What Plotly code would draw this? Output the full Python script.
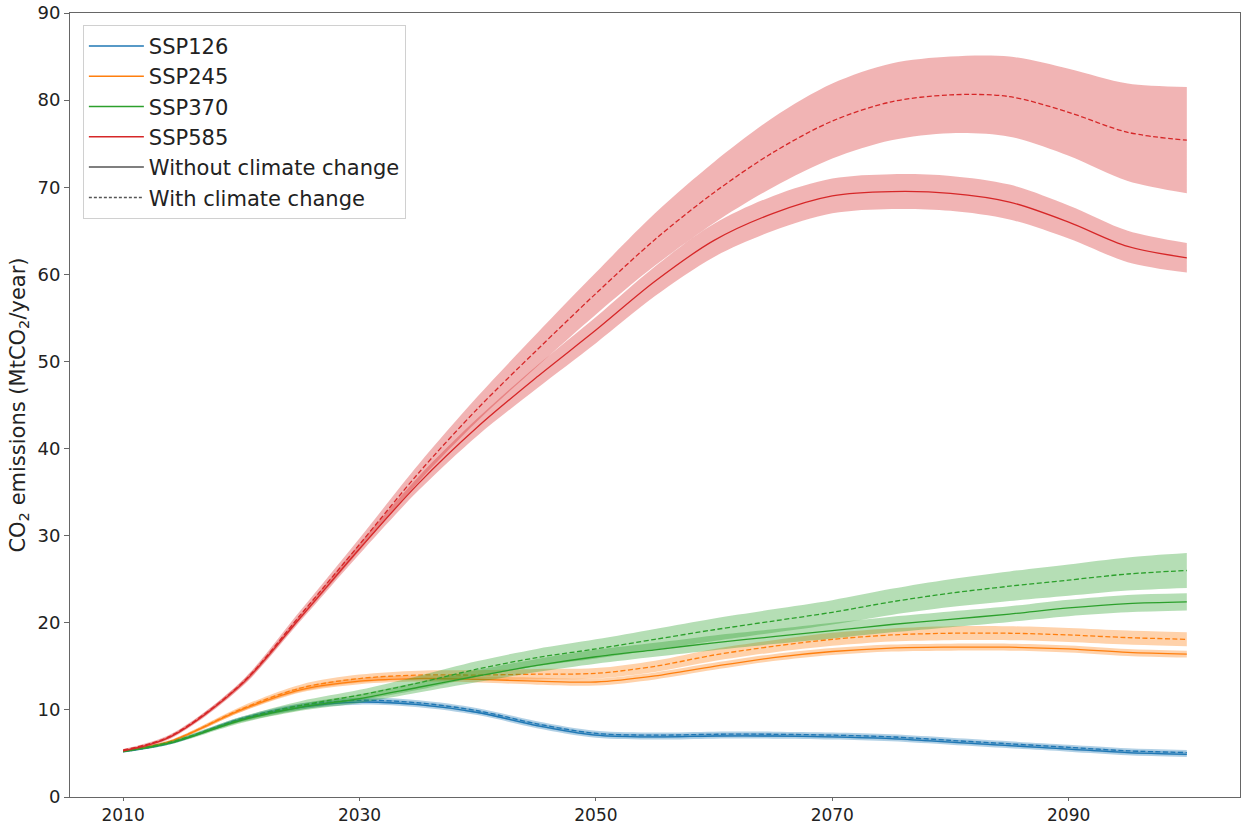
import plotly.graph_objects as go

years = [2010, 2014, 2020, 2025, 2030, 2035, 2040, 2045, 2050, 2055,
         2060, 2065, 2070, 2075, 2080, 2085, 2090, 2095, 2100]

# central estimates, MtCO2/year
ssp126_without = [5.2, 6.2, 8.9, 10.3, 10.9, 10.6, 9.7, 8.2, 7.1, 6.9, 7.0, 7.0, 6.9, 6.7, 6.3, 5.9, 5.5, 5.1, 4.9]
ssp126_with    = [5.2, 6.2, 9.0, 10.5, 11.1, 10.8, 9.9, 8.4, 7.3, 7.1, 7.2, 7.2, 7.1, 6.9, 6.5, 6.1, 5.7, 5.3, 5.1]
ssp245_without = [5.3, 6.4, 10.0, 12.3, 13.3, 13.6, 13.5, 13.3, 13.2, 13.9, 15.0, 16.0, 16.7, 17.1, 17.2, 17.2, 17.0, 16.6, 16.4]
ssp245_with    = [5.3, 6.4, 10.1, 12.5, 13.6, 14.0, 14.0, 14.1, 14.2, 15.0, 16.3, 17.3, 18.1, 18.6, 18.8, 18.8, 18.6, 18.3, 18.1]
ssp370_without = [5.2, 6.2, 8.8, 10.3, 11.3, 12.6, 13.9, 15.1, 16.1, 16.9, 17.7, 18.4, 19.1, 19.8, 20.4, 21.0, 21.7, 22.2, 22.4]
ssp370_with    = [5.3, 6.3, 8.9, 10.5, 11.7, 13.1, 14.7, 16.0, 17.0, 18.1, 19.2, 20.2, 21.2, 22.4, 23.4, 24.2, 24.9, 25.6, 26.0]
ssp585_without = [5.3, 6.9, 12.9, 20.6, 28.5, 36.0, 42.5, 48.2, 53.6, 59.2, 63.9, 67.0, 69.0, 69.5, 69.3, 68.3, 66.0, 63.2, 61.9]
ssp585_with    = [5.4, 7.0, 13.0, 20.9, 29.0, 37.2, 44.6, 51.3, 57.8, 64.0, 69.4, 74.0, 77.6, 79.8, 80.6, 80.4, 78.6, 76.3, 75.4]

# half-widths of the uncertainty bands
ssp126_without_spread = [0.1, 0.15, 0.2, 0.25, 0.3, 0.3, 0.3, 0.3, 0.3, 0.3, 0.3, 0.3, 0.3, 0.3, 0.3, 0.3, 0.3, 0.3, 0.3]
ssp126_with_spread    = [0.1, 0.15, 0.2, 0.25, 0.3, 0.3, 0.3, 0.3, 0.3, 0.3, 0.3, 0.3, 0.3, 0.3, 0.3, 0.3, 0.3, 0.3, 0.3]
ssp245_without_spread = [0.1, 0.15, 0.25, 0.3, 0.35, 0.35, 0.35, 0.4, 0.4, 0.4, 0.4, 0.4, 0.4, 0.4, 0.4, 0.4, 0.4, 0.4, 0.4]
ssp245_with_spread    = [0.1, 0.15, 0.3, 0.4, 0.45, 0.5, 0.55, 0.6, 0.6, 0.65, 0.7, 0.7, 0.75, 0.75, 0.8, 0.8, 0.8, 0.8, 0.8]
ssp370_without_spread = [0.1, 0.15, 0.3, 0.4, 0.5, 0.6, 0.7, 0.75, 0.8, 0.8, 0.85, 0.85, 0.9, 0.9, 0.9, 0.9, 0.95, 1.0, 1.0]
ssp370_with_spread    = [0.1, 0.15, 0.3, 0.5, 0.6, 0.8, 0.9, 1.0, 1.1, 1.2, 1.3, 1.35, 1.4, 1.5, 1.6, 1.7, 1.8, 1.9, 2.0]
ssp585_without_spread = [0.1, 0.2, 0.3, 0.4, 0.6, 0.8, 1.0, 1.3, 1.5, 1.7, 1.9, 2.0, 2.0, 2.0, 2.0, 2.0, 1.9, 1.8, 1.7]
ssp585_with_spread    = [0.1, 0.2, 0.3, 0.5, 0.7, 1.0, 1.4, 1.9, 2.4, 3.0, 3.5, 4.0, 4.3, 4.4, 4.4, 4.6, 5.0, 5.6, 6.1]

scenario_names = ["SSP126", "SSP245", "SSP370", "SSP585"]
scenario_colors = ["#1f77b4", "#ff7f0e", "#2ca02c", "#d62728"]
scenario_rgb = [(31, 119, 180), (255, 127, 14), (44, 160, 44), (214, 39, 40)]

series = [
    (ssp126_without, ssp126_without_spread, ssp126_with, ssp126_with_spread),
    (ssp245_without, ssp245_without_spread, ssp245_with, ssp245_with_spread),
    (ssp370_without, ssp370_without_spread, ssp370_with, ssp370_with_spread),
    (ssp585_without, ssp585_without_spread, ssp585_with, ssp585_with_spread),
]

SMOOTH = 0.9
fig = go.Figure()

def add_band(center, spread, rgb):
    lo = [c - s for c, s in zip(center, spread)]
    hi = [c + s for c, s in zip(center, spread)]
    fig.add_trace(go.Scatter(x=years, y=lo, mode="lines",
                             line=dict(width=0, shape="spline", smoothing=SMOOTH),
                             showlegend=False, hoverinfo="skip"))
    fig.add_trace(go.Scatter(x=years, y=hi, mode="lines",
                             line=dict(width=0, shape="spline", smoothing=SMOOTH),
                             fill="tonexty", fillcolor="rgba(%d,%d,%d,0.35)" % rgb,
                             showlegend=False, hoverinfo="skip"))

for (wo, wo_s, wi, wi_s), color, rgb in zip(series, scenario_colors, scenario_rgb):
    add_band(wo, wo_s, rgb)
    fig.add_trace(go.Scatter(x=years, y=wo, mode="lines",
                             line=dict(color=color, width=1.3, shape="spline", smoothing=SMOOTH),
                             showlegend=False))
    add_band(wi, wi_s, rgb)
    fig.add_trace(go.Scatter(x=years, y=wi, mode="lines",
                             line=dict(color=color, width=1.3, shape="spline", smoothing=SMOOTH,
                                       dash="5px,2.5px"),
                             showlegend=False))

# legend entries
for i, (name, color) in enumerate(zip(scenario_names, scenario_colors)):
    fig.add_trace(go.Scatter(x=[None], y=[None], mode="lines", name=name, legendgroup="g%d" % i,
                             line=dict(color=color, width=1.5)))
fig.add_trace(go.Scatter(x=[None], y=[None], mode="lines", name="Without climate change",
                         legendgroup="g4", line=dict(color="#555555", width=1.5)))
fig.add_trace(go.Scatter(x=[None], y=[None], mode="lines", name="With climate change",
                         legendgroup="g5", line=dict(color="#555555", width=1.5, dash="3px,2px")))

axis_common = dict(showline=True, mirror=True, linecolor="#666666", linewidth=1,
                   ticks="outside", tickcolor="#666666", showgrid=False, zeroline=False,
                   automargin=False)

fig.update_layout(
    width=1244, height=824,
    margin=dict(l=70, r=4, t=13, b=27),
    paper_bgcolor="white", plot_bgcolor="white",
    font=dict(family="DejaVu Sans", color="#222222"),
    showlegend=True,
    legend=dict(x=0.011, y=0.985, xanchor="left", yanchor="top",
                bgcolor="rgba(255,255,255,0.85)", bordercolor="#d0d0d0", borderwidth=1,
                font=dict(size=21, color="#222222"), tracegroupgap=0, itemwidth=55,
                traceorder="normal"),
    xaxis=dict(range=[2005.5, 2104.5], tickvals=[2010, 2030, 2050, 2070, 2090],
               ticklen=3, tickfont=dict(size=17, color="#222222"), **axis_common),
    yaxis=dict(range=[0, 90], tickvals=[0, 10, 20, 30, 40, 50, 60, 70, 80, 90],
               ticklen=5, tickfont=dict(size=18, color="#222222"),
               title=dict(text="CO<sub>2</sub> emissions (MtCO<sub>2</sub>/year)",
                          font=dict(size=21, color="#222222"), standoff=6),
               **axis_common),
)

fig.write_html("out.html")
